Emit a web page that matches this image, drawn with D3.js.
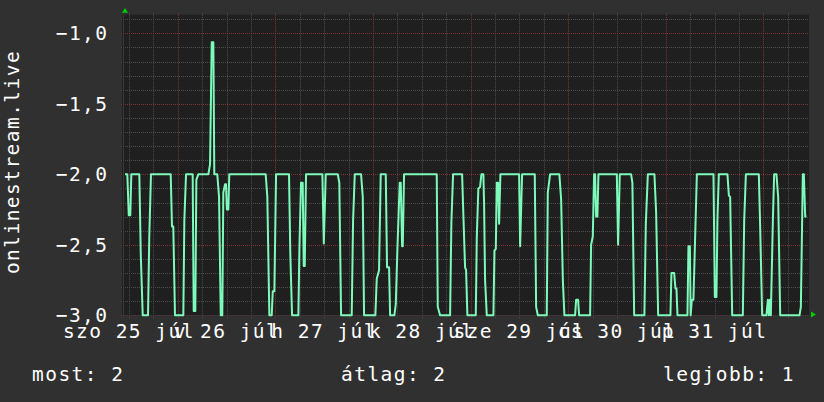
<!DOCTYPE html>
<html><head><meta charset="utf-8">
<script src="https://cdn.jsdelivr.net/npm/d3@7"></script>
<style>html,body{margin:0;padding:0;background:#303030;}svg{display:block}</style>
</head><body><svg id="c" width="824" height="402"></svg>
<script>
const seriesName = "onlinestream.live";
// hours since the start of the graph (Sat 25 Jul 10:48)
const hours = [
0.25,0.81,1.16,1.55,1.80,3.76,4.11,4.60,5.90,6.22,
6.64,11.48,11.80,12.12,12.54,12.79,14.58,14.83,15.25,16.89,
17.14,17.53,17.78,18.27,20.73,21.15,21.57,21.96,22.20,22.94,
23.36,23.78,24.17,24.42,24.84,25.08,25.28,25.65,25.89,34.84,
35.24,35.73,36.32,36.57,36.96,37.38,40.57,40.89,41.31,42.86,
43.11,43.52,43.94,44.19,44.43,44.75,48.76,49.11,49.60,52.55,
52.94,53.36,55.99,56.31,56.73,58.28,58.70,59.02,61.80,62.14,
62.70,63.12,64.35,64.67,65.16,65.41,66.47,66.81,67.20,67.79,
68.04,68.36,68.53,68.85,76.89,77.14,77.70,80.16,80.48,80.90,
83.11,83.43,83.85,84.10,84.42,86.48,86.73,87.12,87.54,87.86,
88.35,88.52,88.77,89.19,90.81,91.06,91.40,91.65,91.97,92.21,
92.53,97.13,97.38,97.87,100.99,101.31,101.73,103.94,104.19,104.75,
107.04,107.46,107.88,108.27,110.90,111.15,111.64,111.88,114.59,114.84,
115.25,115.57,115.82,116.06,116.38,116.63,121.15,121.47,121.89,124.67,
124.99,125.41,127.94,128.29,128.78,130.40,130.82,131.31,134.34,134.58,
135.25,135.57,135.81,136.06,138.52,138.76,139.11,139.30,139.60,139.99,
140.41,140.83,144.91,145.25,145.65,145.89,146.24,148.35,148.70,149.02,
149.51,152.14,152.46,152.88,156.07,156.39,156.88,157.94,158.29,158.53,
158.78,159.02,159.51,159.84,160.40,160.82,161.31,166.06,166.40,166.89,
167.14,167.46,167.78];
const values = [
-2.0,-2.0,-2.29,-2.29,-2.0,-2.0,-2.56,-3.0,-3.0,-2.44,
-2.0,-2.0,-2.37,-2.37,-3.0,-3.0,-3.0,-2.33,-2.0,-2.0,
-2.97,-2.97,-2.04,-2.0,-2.0,-1.93,-1.064,-1.064,-2.0,-2.0,
-2.16,-3.0,-3.0,-2.13,-2.07,-2.07,-2.25,-2.25,-2.0,-2.0,
-2.16,-3.0,-3.0,-2.83,-2.83,-2.0,-2.0,-2.56,-3.0,-3.0,
-2.53,-2.06,-2.06,-2.65,-2.65,-2.0,-2.0,-2.49,-2.0,-2.0,
-2.06,-3.0,-3.0,-2.33,-2.0,-2.0,-2.16,-3.0,-3.0,-2.74,
-2.68,-2.0,-2.0,-2.66,-2.66,-3.0,-3.0,-2.92,-2.54,-2.06,
-2.06,-2.51,-2.51,-2.0,-2.0,-2.94,-3.0,-3.0,-2.34,-2.0,
-2.0,-2.29,-2.66,-2.68,-3.0,-3.0,-2.44,-2.10,-2.09,-2.0,
-2.0,-2.2,-2.75,-3.0,-3.0,-2.54,-2.53,-2.06,-2.06,-2.35,
-2.0,-2.0,-2.51,-2.0,-2.0,-2.94,-3.0,-3.0,-2.13,-2.0,
-2.0,-2.18,-2.75,-3.0,-3.0,-2.89,-2.89,-3.0,-3.0,-2.50,
-2.44,-2.0,-2.0,-2.30,-2.30,-2.0,-2.0,-2.50,-2.0,-2.0,
-2.06,-3.0,-3.0,-2.35,-2.0,-2.0,-2.27,-3.0,-3.0,-2.70,
-2.70,-2.81,-2.81,-3.0,-3.0,-2.51,-2.51,-3.0,-2.89,-2.89,
-2.44,-2.0,-2.0,-2.87,-2.87,-2.33,-2.0,-2.0,-2.15,-2.16,
-3.0,-3.0,-2.33,-2.0,-2.0,-2.36,-3.0,-3.0,-2.89,-3.0,
-2.89,-3.0,-2.33,-2.0,-2.0,-2.16,-3.0,-3.0,-2.94,-2.0,
-2.0,-2.30,-2.30];
const xTickLabels = ["szo 25 júl","v 26 júl","h 27 júl","k 28 júl","sze 29 júl","cs 30 júl","p 31 júl"];
const yTicks = [-1.0,-1.5,-2.0,-2.5,-3.0];
const legendLabels = ["most: 2","átlag: 2","legjobb: 1"];
const yMin = -3.0, yMax = -0.868;
const startTime = new Date(2020,6,25,10,48);
const spanHours = 168.4;

const L = 124, R = 809, T = 14.7, B = 315.3;
const FONT = "DejaVu Sans Mono";
const svg = d3.select("#c");
const endTime = d3.timeMinute.offset(startTime, Math.round(spanHours*60));
const x = d3.scaleTime().domain([startTime, endTime]).range([L, R]);
const y = d3.scaleLinear().domain([yMin, yMax]).range([B, T]);
const loc = d3.formatLocale({decimal: ",", thousands: " ", grouping: [3], currency: ["", ""]});
const fmt = loc.format(".1f");

svg.append("rect").attr("width",824).attr("height",402).attr("fill","#303030");
svg.append("rect").attr("x",L-2).attr("y",T).attr("width",R-L+2).attr("height",B-T+1).attr("fill","#1f1f1f");

const grid = svg.append("g");
// minor horizontal grid
const minorY = y.ticks(20).filter(v => Math.abs(v*2 - Math.round(v*2)) > 1e-6);
grid.selectAll(".hy").data(minorY).join("line")
  .attr("x1",L-3).attr("x2",R).attr("y1",d=>Math.round(y(d))+0.5).attr("y2",d=>Math.round(y(d))+0.5)
  .attr("stroke","#4e4e4e").attr("stroke-dasharray","1,1");
// minor vertical grid
const minorX = d3.timeHour.every(6).range(startTime, endTime).filter(d => d.getHours() !== 0);
grid.selectAll(".vx").data(minorX).join("line")
  .attr("x1",d=>Math.round(x(d))+0.5).attr("x2",d=>Math.round(x(d))+0.5).attr("y1",T-1.5).attr("y2",B+3)
  .attr("stroke","#4e4e4e").attr("stroke-dasharray","1,1");
// major grid
grid.selectAll(".my").data(yTicks).join("line")
  .attr("x1",L-3).attr("x2",R).attr("y1",d=>Math.round(y(d))+0.5).attr("y2",d=>Math.round(y(d))+0.5)
  .attr("stroke","#7e3535").attr("stroke-dasharray","1,1");
const majorX = d3.timeDay.range(startTime, endTime);
grid.selectAll(".mx").data(majorX).join("line")
  .attr("x1",d=>Math.round(x(d))+0.5).attr("x2",d=>Math.round(x(d))+0.5).attr("y1",T-1.5).attr("y2",B+3)
  .attr("stroke","#7e3535").attr("stroke-dasharray","1,1");

// axes
svg.append("line").attr("x1",L-0.5).attr("x2",L-0.5).attr("y1",T).attr("y2",B+1).attr("stroke","#3a3a3a");
svg.append("line").attr("x1",L-2).attr("x2",R+2).attr("y1",B+0.5).attr("y2",B+0.5).attr("stroke","#3a3a3a");
svg.append("path").attr("d",`M${L+1},8 L${L-2},12.7 L${L+4},12.7 Z`).attr("fill","#00d000");
svg.append("path").attr("d",`M816,314.5 L811,311.5 L811,317.5 Z`).attr("fill","#00d000");

// data line
const pts = hours.map((h,i) => [d3.timeMinute.offset(startTime, Math.round(h*60)), values[i]]);
const line = d3.line().x(d=>x(d[0])).y(d=>y(d[1]));
svg.append("path").datum(pts).attr("d",line).attr("fill","none")
  .attr("stroke","#7dfab9").attr("stroke-width",2).attr("stroke-linejoin","round");

const txt = (sel) => sel.attr("font-family",FONT).attr("font-size","19.5px")
  .attr("letter-spacing","1.45px").attr("fill","#ffffff");

// y labels
svg.append("g").selectAll("text").data(yTicks).join("text").call(txt)
  .attr("x",108.5).attr("y",d=>y(d)).attr("dy","0.36em").attr("text-anchor","end").text(d=>fmt(d));

// x labels centred on noon of each day
const labelTimes = xTickLabels.map((s,i) => d3.timeHour.offset(d3.timeDay.floor(startTime), 12 + 24*i));
svg.append("g").selectAll("text").data(xTickLabels).join("text").call(txt)
  .attr("x",(d,i)=>x(labelTimes[i])).attr("y",338).attr("text-anchor","middle").text(d=>d);

// vertical title
svg.append("text").call(txt).attr("transform","translate(19,162) rotate(-90)")
  .attr("text-anchor","middle").text(seriesName);

// legend
const legendX = [32, 341, 663];
svg.append("g").selectAll("text").data(legendLabels).join("text").call(txt)
  .attr("x",(d,i)=>legendX[i]).attr("y",381).text(d=>d);
</script>
</body></html>
